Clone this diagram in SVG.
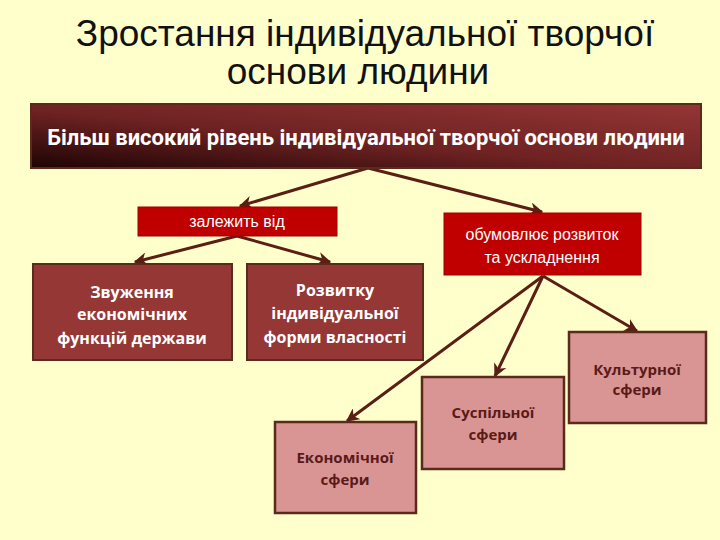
<svg xmlns="http://www.w3.org/2000/svg" width="720" height="540" viewBox="0 0 720 540">
<defs>
<linearGradient id="topGrad" x1="0" y1="1" x2="1" y2="0">
<stop offset="0" stop-color="#1e0404"/>
<stop offset="0.45" stop-color="#6e2222"/>
<stop offset="1" stop-color="#953535"/>
</linearGradient>
<marker id="arr" viewBox="0 0 10 10" refX="9" refY="5" markerWidth="4.5" markerHeight="4.5" orient="auto" markerUnits="strokeWidth">
<path d="M0,0 L10,5 L0,10 L3,5 Z" fill="#5a1e14"/>
</marker>
<style>
.title{font-family:"Liberation Sans",Arial,sans-serif;font-size:37px;fill:#111;text-anchor:middle}
.red{fill:#C00000;stroke:#a00000;stroke-width:1}
.dark{fill:#953735;stroke:#5a2a1a;stroke-width:2}
.pink{fill:#D99594;stroke:#5a2a1a;stroke-width:2.5}
.wreg{font-family:"Liberation Sans",Arial,sans-serif;font-size:16px;fill:#fff;text-anchor:middle}
.wbold{font-family:"Open Sans","Noto Sans",sans-serif;font-weight:bold;font-size:16px;fill:#fff;text-anchor:middle}
.pbold{font-family:"Open Sans","Noto Sans",sans-serif;font-weight:bold;font-size:15px;fill:#5a1a1a;text-anchor:middle}
.conn{stroke:#5a1e14;stroke-width:3;fill:none;marker-end:url(#arr)}
</style>
</defs>
<rect width="720" height="540" fill="#FFFFCC"/>
<g id="title">
<text class="title" x="365" y="46">Зростання індивідуальної творчої</text>
<text class="title" x="358" y="84">основи людини</text>
</g>
<g id="connectors">
<line class="conn" x1="368" y1="168" x2="240" y2="206"/>
<line class="conn" x1="368" y1="168" x2="542" y2="212"/>
<line class="conn" x1="237" y1="236" x2="135" y2="262"/>
<line class="conn" x1="237" y1="236" x2="330" y2="262"/>
<line class="conn" x1="543" y1="276" x2="637" y2="331"/>
<line class="conn" x1="543" y1="276" x2="495" y2="376"/>
<line class="conn" x1="543" y1="276" x2="347" y2="421"/>
</g>
<g id="top">
<rect x="31" y="104" width="670" height="64" fill="url(#topGrad)" stroke="#5a2a1a" stroke-width="2"/>
<text x="366" y="145" font-family="Roboto,'Noto Sans',sans-serif" font-weight="bold" font-size="22" fill="#fff" text-anchor="middle">Більш високий рівень індивідуальної творчої основи людини</text>
</g>
<g id="zalezhyt">
<rect class="red" x="138" y="207" width="199" height="29"/>
<text class="wreg" x="237" y="227">залежить від</text>
</g>
<g id="obumovlyuye">
<rect class="red" x="444" y="213" width="197" height="62"/>
<text class="wreg" x="542" y="240">обумовлює розвиток</text>
<text class="wreg" x="542" y="263">та ускладнення</text>
</g>
<g id="zvuzhennya">
<rect class="dark" x="33" y="264" width="199" height="96"/>
<text class="wbold" x="132" y="298">Звуження</text>
<text class="wbold" x="132" y="320">економічних</text>
<text class="wbold" x="132" y="344">функцій держави</text>
</g>
<g id="rozvytku">
<rect class="dark" x="247" y="264" width="176" height="96"/>
<text class="wbold" x="335" y="296">Розвитку</text>
<text class="wbold" x="335" y="319">індивідуальної</text>
<text class="wbold" x="335" y="343">форми власності</text>
</g>
<g id="kulturnoi">
<rect class="pink" x="569" y="332" width="137" height="91"/>
<text class="pbold" x="637" y="375">Культурної</text>
<text class="pbold" x="637" y="395">сфери</text>
</g>
<g id="suspilnoi">
<rect class="pink" x="422" y="377" width="142" height="92"/>
<text class="pbold" x="493" y="418">Суспільної</text>
<text class="pbold" x="493" y="440">сфери</text>
</g>
<g id="ekonomichnoi">
<rect class="pink" x="275" y="422" width="141" height="91"/>
<text class="pbold" x="345" y="463">Економічної</text>
<text class="pbold" x="345" y="485">сфери</text>
</g>
</svg>
